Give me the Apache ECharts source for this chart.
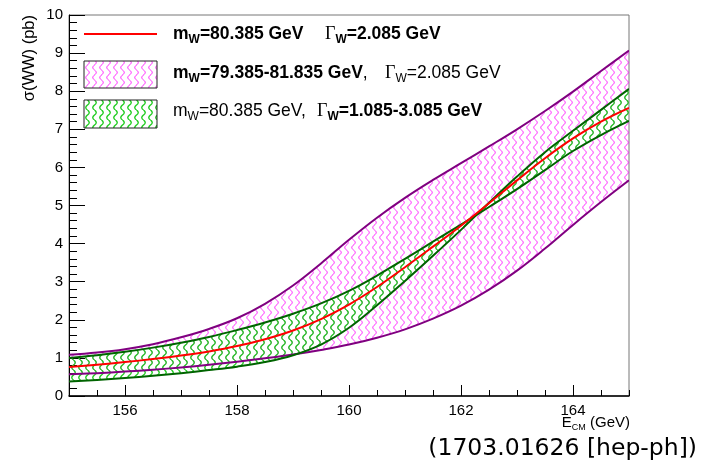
<!DOCTYPE html>
<html><head><meta charset="utf-8">
<script src="https://cdn.jsdelivr.net/npm/echarts@6/dist/echarts.min.js"></script>
<style>html,body{margin:0;padding:0;background:#fff}#c{width:709px;height:468px}</style>
</head><body><div id="c"></div>
<script>
// ---- data ----
const energy = [155,155.5,156,156.5,157,157.5,158,158.5,159,159.5,160,160.5,161,161.5,162,162.5,163,163.5,164,164.5,165];
const sigmaCentral   = [0.76,0.82,0.89,0.97,1.06,1.17,1.31,1.49,1.72,2.02,2.40,2.86,3.38,3.92,4.47,5.06,5.66,6.24,6.76,7.20,7.56];
const sigmaMwLow     = [1.08,1.14,1.23,1.36,1.54,1.76,2.04,2.42,2.90,3.48,4.10,4.68,5.20,5.67,6.11,6.55,7.00,7.48,7.99,8.53,9.07];
const sigmaMwHigh    = [0.57,0.60,0.64,0.69,0.75,0.82,0.90,0.99,1.09,1.21,1.35,1.53,1.75,2.03,2.37,2.79,3.29,3.87,4.49,5.09,5.66];
const sigmaGammaHigh = [1.00,1.07,1.16,1.27,1.40,1.55,1.73,1.93,2.16,2.43,2.76,3.16,3.60,4.05,4.50,4.96,5.43,5.93,6.43,6.85,7.22];
const sigmaGammaLow  = [0.38,0.42,0.47,0.53,0.60,0.68,0.77,0.89,1.07,1.35,1.79,2.38,3.02,3.68,4.36,5.07,5.76,6.40,6.96,7.51,8.06];
const xTickLabels = [156,158,160,162,164];
const yTickLabels = [0,1,2,3,4,5,6,7,8,9,10];

// ---- helpers ----
function wave(color, lw){
  const c=document.createElement('canvas'); c.width=7; c.height=10;
  const g=c.getContext('2d'); g.strokeStyle=color; g.lineWidth=lw; g.beginPath();
  for(let k=0;k<=40;k++){ const y=k*10/40; const x=3.5+1.7*Math.sin(2*Math.PI*y/10); if(k===0) g.moveTo(x,y); else g.lineTo(x,y); }
  g.stroke(); return c;
}
const magPat = {image: wave('#ff00ff',1), repeat:'repeat'};
const grnPat = {image: wave('#22cc22',1.4), repeat:'repeat'};
const SM = 0.4;

function bandSeries(upper, lower, pat){
  return {type:'custom', silent:true, animation:false, clip:true, data:[[155,0]],
    renderItem:function(params, api){
      const n=energy.length, pts=[];
      for(let i=0;i<n;i++){ const p=api.coord([energy[i], upper[i]]); pts.push(p); if(i===0||i===n-1) pts.push(p.slice()); }
      for(let i=n-1;i>=0;i--){ const p=api.coord([energy[i], lower[i]]); pts.push(p); if(i===0||i===n-1) pts.push(p.slice()); }
      return {type:'polygon', shape:{points:pts, smooth:SM}, style:{fill:pat, stroke:null}};
    }};
}
function lineSeries(ys, color){
  return {type:'custom', silent:true, animation:false, clip:true, data:[[155,0]],
    renderItem:function(params, api){
      const pts=energy.map((x,i)=>api.coord([x, ys[i]]));
      return {type:'polyline', shape:{points:pts, smooth:SM}, style:{stroke:color, lineWidth:2, fill:null}};
    }};
}
const series = [
  bandSeries(sigmaMwLow, sigmaMwHigh, magPat),
  bandSeries(sigmaGammaHigh, sigmaGammaLow, grnPat),
  lineSeries(sigmaMwLow, '#800080'),
  lineSeries(sigmaMwHigh, '#800080'),
  lineSeries(sigmaGammaHigh, '#006400'),
  lineSeries(sigmaGammaLow, '#006400'),
  lineSeries(sigmaCentral, '#ff0000')
];

const F = 'Liberation Sans, Arial, sans-serif';
const rich = {
  b:{fontFamily:F, fontSize:17.5, fontWeight:'bold', lineHeight:24, color:'#000'},
  n:{fontFamily:F, fontSize:17.5, lineHeight:24, color:'#222'},
  bs:{fontFamily:F, fontSize:12, fontWeight:'bold', lineHeight:14, verticalAlign:'bottom', color:'#000'},
  ns:{fontFamily:F, fontSize:12, lineHeight:14, verticalAlign:'bottom', color:'#222'},
  g:{fontFamily:'Liberation Serif, serif', fontSize:18, lineHeight:24, color:'#111'}
};
function txt(x,y,t){ return {type:'text', x:x, y:y, silent:true, style:{text:t, rich:rich, textVerticalAlign:'middle', textAlign:'left'}}; }

const graphic = [
  {type:'line', shape:{x1:84,y1:34,x2:157,y2:34}, style:{stroke:'#ff0000', lineWidth:2}, silent:true},
  {type:'rect', shape:{x:84,y:61,width:73,height:27}, style:{fill:magPat, stroke:'#222', lineWidth:1}, silent:true},
  {type:'rect', shape:{x:84,y:100,width:73,height:28}, style:{fill:grnPat, stroke:'#222', lineWidth:1}, silent:true},
  txt(173,34,'{b|m}{bs|W}{b|=80.385 GeV}'),
  txt(325,34,'{g|Γ}{bs|W}{b|=2.085 GeV}'),
  txt(173,73,'{b|m}{bs|W}{b|=79.385-81.835 GeV}{n|,}'),
  txt(385,73,'{g|Γ}{ns|W}{n|=2.085 GeV}'),
  txt(173,111,'{n|m}{ns|W}{n|=80.385 GeV,}'),
  txt(317,111,'{g|Γ}{bs|W}{b|=1.085-3.085 GeV}'),
  {type:'text', x:29, y:15, rotation:Math.PI/2, silent:true,
   style:{text:'σ(WW) (pb)', fontFamily:F, fontSize:16.5, fill:'#000', textAlign:'right', textVerticalAlign:'middle'}},
  {type:'text', x:630, y:423, silent:true,
   style:{text:'{e|E}{s|CM}{e| (GeV)}', textAlign:'right', textVerticalAlign:'middle',
     rich:{e:{fontFamily:F, fontSize:15, lineHeight:18, color:'#000'}, s:{fontFamily:F, fontSize:9, lineHeight:10, verticalAlign:'bottom', color:'#000'}}}},
  {type:'text', x:697, y:449, silent:true,
   style:{text:'(1703.01626 [hep-ph])', fontFamily:'DejaVu Sans, sans-serif', fontSize:23.5, fill:'#000', textAlign:'right', textVerticalAlign:'middle'}}
];

const chart = echarts.init(document.getElementById('c'), null, {renderer:'canvas'});
chart.setOption({
  animation:false,
  grid:{left:69, right:80, top:15, bottom:72, show:true, borderColor:'#777', borderWidth:1, backgroundColor:'transparent'},
  xAxis:[
    {type:'value', min:155, max:165, interval:0.5, position:'bottom',
     axisLine:{show:true, onZero:false, lineStyle:{color:'#000', width:1.5}},
     axisTick:{show:true, inside:true, length:6, lineStyle:{color:'#000'}},
     axisLabel:{show:false}, splitLine:{show:false}},
    {type:'value', min:155, max:165, interval:0.5, position:'bottom',
     axisLine:{show:false, onZero:false},
     axisTick:{show:true, inside:true, length:11, customValues:xTickLabels, lineStyle:{color:'#000'}},
     axisLabel:{show:true, customValues:xTickLabels, margin:7, fontFamily:F, fontSize:15, color:'#000'},
     splitLine:{show:false}}
  ],
  yAxis:{type:'value', min:0, max:10, interval:1,
     axisLine:{show:true, onZero:false, lineStyle:{color:'#000', width:1}},
     axisTick:{show:true, inside:true, length:16, lineStyle:{color:'#000'}},
     minorTick:{show:true, splitNumber:5, length:8, lineStyle:{color:'#000'}},
     axisLabel:{show:true, margin:6, fontFamily:F, fontSize:15, color:'#000',
       formatter:function(v){ return yTickLabels.indexOf(v)>=0 ? String(v) : ''; }},
     splitLine:{show:false}, minorSplitLine:{show:false}},
  series: series,
  graphic: graphic
});
</script></body></html>
